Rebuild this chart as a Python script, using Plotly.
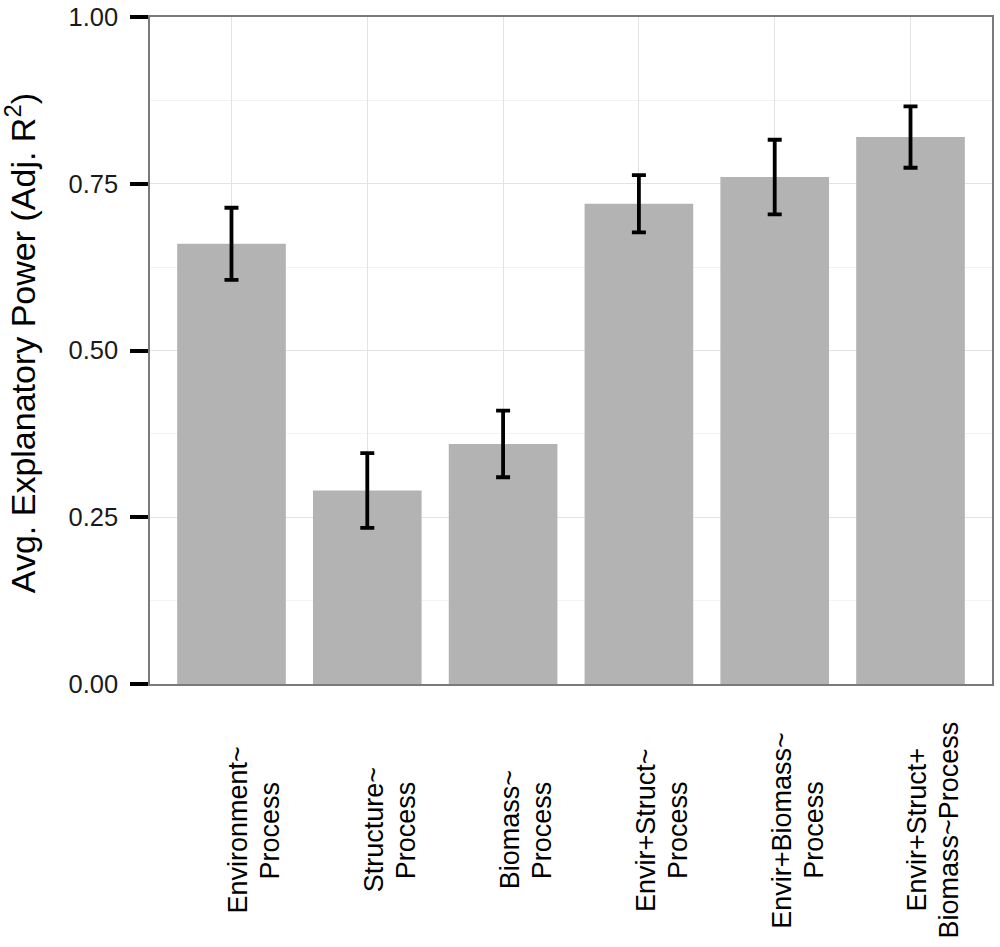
import plotly.graph_objects as go

categories = ["Environment~<br>Process", "Structure~<br>Process", "Biomass~<br>Process",
              "Envir+Struct~<br>Process", "Envir+Biomass~<br>Process", "Envir+Struct+<br>Biomass~Process"]
r2_mean = [0.66, 0.29, 0.36, 0.72, 0.76, 0.82]
r2_err = [0.054, 0.056, 0.050, 0.043, 0.056, 0.046]
y_ticks = [0.0, 0.25, 0.5, 0.75, 1.0]
y_tick_labels = ["0.00", "0.25", "0.50", "0.75", "1.00"]
y_title = "Avg. Explanatory Power (Adj. R<sup>2</sup>)"

FONT = "Liberation Sans, Arial, Helvetica, sans-serif"
xpos = list(range(len(categories)))

fig = go.Figure()
fig.add_trace(go.Bar(
    x=xpos, y=r2_mean, width=0.8,
    marker=dict(color="#b3b3b3", line=dict(width=0)),
    error_y=dict(type="data", array=r2_err, visible=True, color="black",
                 thickness=3.8, width=7),
    showlegend=False,
))

for i, lab in enumerate(categories):
    for j, line in enumerate(lab.split("<br>")):
        fig.add_annotation(x=i, xref="x", y=-0.219, yref="paper", text=line,
                           textangle=-90, showarrow=False, xanchor="center", yanchor="middle",
                           xshift=7 + 32 * j,
                           font=dict(family=FONT, size=27, color="black"))

# y-axis title
fig.add_annotation(x=0, xref="paper", y=0.511, yref="paper", text=y_title,
                   textangle=-90, showarrow=False, xanchor="center", yanchor="middle",
                   xshift=-130, font=dict(family=FONT, size=34, color="black"))

fig.update_layout(
    width=1000, height=947,
    margin=dict(l=150, r=8, t=17, b=263, autoexpand=False),
    paper_bgcolor="white", plot_bgcolor="white",
    font=dict(family=FONT, color="black"),
)
fig.update_xaxes(range=[-0.6, 5.6], tickvals=xpos, showticklabels=False, ticks="",
                 showgrid=True, gridcolor="#e3e3e3", gridwidth=1.2,
                 showline=True, mirror=True, linecolor="#7a7a7a", linewidth=1.5,
                 zeroline=False)
fig.update_yaxes(range=[0, 1], tickvals=y_ticks, ticktext=y_tick_labels,
                 ticks="outside", ticklen=18, tickwidth=3.5, tickcolor="black",
                 tickfont=dict(family=FONT, size=25.5, color="#1a1a1a"),
                 ticklabelstandoff=7, ticklabeloverflow="allow",
                 showgrid=True, gridcolor="#e3e3e3", gridwidth=1.2,
                 minor=dict(tickvals=[0.125, 0.375, 0.625, 0.875], showgrid=True,
                            gridcolor="#f3f3f3", gridwidth=1.2, ticks=""),
                 showline=True, mirror=True, linecolor="#7a7a7a", linewidth=1.5,
                 zeroline=False, automargin=False)

fig.write_html("out.html", config={"displayModeBar": False},
               post_script="document.body.style.margin='0';document.body.style.overflow='hidden';")
